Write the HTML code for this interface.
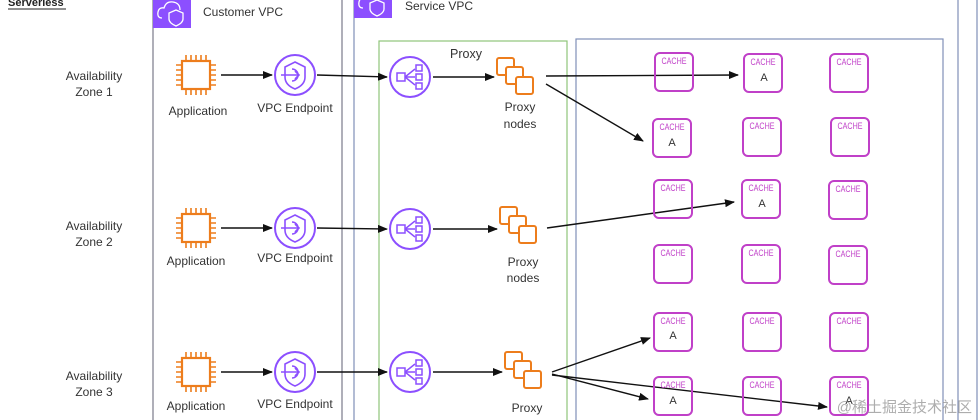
<!DOCTYPE html>
<html><head><meta charset="utf-8"><style>
html,body{margin:0;padding:0;background:#fff;}
svg{display:block;font-family:"Liberation Sans","Noto Sans CJK SC",sans-serif;}
</style></head><body>
<svg width="980" height="420" viewBox="0 0 980 420" xmlns="http://www.w3.org/2000/svg">
<defs>
<marker id="ar" markerWidth="10" markerHeight="8" refX="9" refY="4" orient="auto" markerUnits="userSpaceOnUse">
<path d="M0,0 L10,4 L0,8 z" fill="#111"/></marker>
<g id="chip">
<rect x="-14" y="-14" width="28" height="28" fill="none" stroke="#ed7d1c" stroke-width="2.2"/>
<g stroke="#ed7d1c" stroke-width="1.6">
<path d="M-10,-14v-6M-5,-14v-6M0,-14v-6M5,-14v-6M10,-14v-6M-10,14v6M-5,14v6M0,14v6M5,14v6M10,14v6M-14,-10h-6M-14,-5h-6M-14,0h-6M-14,5h-6M-14,10h-6M14,-10h6M14,-5h6M14,0h6M14,5h6M14,10h6"/></g>
</g>
<g id="vpce">
<circle r="20" fill="none" stroke="#8c4fff" stroke-width="2"/>
<path d="M0,-13 L10,-8 L10,2 Q10,10 0,14 Q-10,10 -10,2 L-10,-8 Z" fill="none" stroke="#8c4fff" stroke-width="1.6"/>
<path d="M-3,-6 A6,6 0 1 1 -3,6" fill="none" stroke="#8c4fff" stroke-width="1.6"/>
<path d="M-14,0 H4 M0,-4 L4,0 L0,4" fill="none" stroke="#8c4fff" stroke-width="1.6"/>
</g>
<g id="lb">
<circle r="20" fill="none" stroke="#8c4fff" stroke-width="2"/>
<rect x="-13" y="-4" width="8" height="8" fill="none" stroke="#8c4fff" stroke-width="1.5"/>
<rect x="6" y="-12" width="6" height="6" fill="none" stroke="#8c4fff" stroke-width="1.5"/>
<rect x="6" y="-3" width="6" height="6" fill="none" stroke="#8c4fff" stroke-width="1.5"/>
<rect x="6" y="6" width="6" height="6" fill="none" stroke="#8c4fff" stroke-width="1.5"/>
<path d="M-5,0 H5 M-5,0 L5,-8 M-5,0 L5,8" stroke="#8c4fff" stroke-width="1.5" fill="none"/>
</g>
<g id="nodes" fill="#fff" stroke="#ed7d1c" stroke-width="2">
<rect x="0" y="0" width="17" height="17" rx="2"/>
<rect x="9" y="9" width="17" height="17" rx="2"/>
<rect x="19" y="19" width="17" height="17" rx="2"/>
</g>
<g id="cloud">
<rect width="38" height="30" fill="#8c4fff"/>
<path d="M9,20 Q4,20 5,14 Q6,9 11,10 Q13,3 20,4 Q27,5 27,12" fill="none" stroke="#fff" stroke-width="1.3"/>
<path d="M23,12 L30,15 L30,21 Q30,25 23,28 Q16,25 16,21 L16,15 Z" fill="none" stroke="#fff" stroke-width="1.3"/>
</g>
</defs>

<text x="8" y="6" font-size="11" font-weight="bold" fill="#222">Serverless</text>
<line x1="8" y1="9" x2="66" y2="9" stroke="#222"/>

<rect x="153" y="-2" width="189" height="430" fill="none" stroke="#7a7a8a" stroke-width="1.2"/>
<use href="#cloud" x="153" y="-2"/>
<text x="203" y="16" font-size="12" fill="#333">Customer VPC</text>

<rect x="354" y="-2" width="604" height="430" fill="none" stroke="#8090b8" stroke-width="1.2"/>
<line x1="977" y1="0" x2="977" y2="420" stroke="#8090b8" stroke-width="1.2"/>
<use href="#cloud" x="354" y="-12"/>
<text x="405" y="10" font-size="12" fill="#333">Service VPC</text>

<rect x="379" y="41" width="188" height="390" fill="none" stroke="#8fc47a" stroke-width="1.2"/>
<text x="466" y="58" font-size="12.5" fill="#333" text-anchor="middle">Proxy</text>
<rect x="576" y="39" width="367" height="390" fill="none" stroke="#8090b8" stroke-width="1.2"/>

<g font-size="12" fill="#333" text-anchor="middle">
<text x="94" y="80">Availability</text><text x="94" y="96">Zone 1</text>
<text x="94" y="230">Availability</text><text x="94" y="246">Zone 2</text>
<text x="94" y="380">Availability</text><text x="94" y="396">Zone 3</text>
</g>

<g font-size="12" fill="#333" text-anchor="middle">
<use href="#chip" x="196" y="75"/><text x="198" y="115">Application</text>
<use href="#vpce" x="295" y="75"/><text x="295" y="112">VPC Endpoint</text>
<use href="#lb" x="410" y="77"/>
<use href="#nodes" x="497" y="58"/><text x="520" y="111">Proxy</text><text x="520" y="128">nodes</text>

<use href="#chip" x="196" y="228"/><text x="196" y="265">Application</text>
<use href="#vpce" x="295" y="228"/><text x="295" y="262">VPC Endpoint</text>
<use href="#lb" x="410" y="229"/>
<use href="#nodes" x="500" y="207"/><text x="523" y="266">Proxy</text><text x="523" y="282">nodes</text>

<use href="#chip" x="196" y="372"/><text x="196" y="410">Application</text>
<use href="#vpce" x="295" y="372"/><text x="295" y="408">VPC Endpoint</text>
<use href="#lb" x="410" y="372"/>
<use href="#nodes" x="505" y="352"/><text x="527" y="412">Proxy</text>
</g>

<g stroke="#111" stroke-width="1.4" fill="none" marker-end="url(#ar)">
<line x1="221" y1="75" x2="272" y2="75"/>
<line x1="317" y1="75" x2="387" y2="77"/>
<line x1="433" y1="77" x2="494" y2="77"/>
<line x1="221" y1="228" x2="272" y2="228"/>
<line x1="317" y1="228" x2="387" y2="229"/>
<line x1="433" y1="229" x2="497" y2="229"/>
<line x1="221" y1="372" x2="272" y2="372"/>
<line x1="317" y1="372" x2="387" y2="372"/>
<line x1="433" y1="372" x2="502" y2="372"/>
<line x1="546" y1="76" x2="738" y2="75"/>
<line x1="546" y1="84" x2="643" y2="141"/>
<line x1="547" y1="228" x2="734" y2="202"/>
<line x1="552" y1="372" x2="650" y2="338"/>
<line x1="552" y1="374" x2="648" y2="399"/>
<line x1="552" y1="375" x2="827" y2="407"/>
</g>

<g font-size="9" fill="#c040c8" text-anchor="middle">
<g fill="none" stroke="#c040c8" stroke-width="2">
<rect x="655" y="53" width="38" height="38" rx="5"/>
<rect x="744" y="54" width="38" height="38" rx="5"/>
<rect x="830" y="54" width="38" height="38" rx="5"/>
<rect x="653" y="119" width="38" height="38" rx="5"/>
<rect x="743" y="118" width="38" height="38" rx="5"/>
<rect x="831" y="118" width="38" height="38" rx="5"/>
<rect x="654" y="180" width="38" height="38" rx="5"/>
<rect x="742" y="180" width="38" height="38" rx="5"/>
<rect x="829" y="181" width="38" height="38" rx="5"/>
<rect x="654" y="245" width="38" height="38" rx="5"/>
<rect x="742" y="245" width="38" height="38" rx="5"/>
<rect x="829" y="246" width="38" height="38" rx="5"/>
<rect x="654" y="313" width="38" height="38" rx="5"/>
<rect x="743" y="313" width="38" height="38" rx="5"/>
<rect x="830" y="313" width="38" height="38" rx="5"/>
<rect x="654" y="377" width="38" height="38" rx="5"/>
<rect x="743" y="377" width="38" height="38" rx="5"/>
<rect x="830" y="377" width="38" height="38" rx="5"/>
</g>
<g lengthAdjust="spacingAndGlyphs">
<text x="674" y="64" textLength="25" lengthAdjust="spacingAndGlyphs">CACHE</text><text x="763" y="65" textLength="25" lengthAdjust="spacingAndGlyphs">CACHE</text><text x="849" y="65" textLength="25" lengthAdjust="spacingAndGlyphs">CACHE</text>
<text x="672" y="130" textLength="25" lengthAdjust="spacingAndGlyphs">CACHE</text><text x="762" y="129" textLength="25" lengthAdjust="spacingAndGlyphs">CACHE</text><text x="850" y="129" textLength="25" lengthAdjust="spacingAndGlyphs">CACHE</text>
<text x="673" y="191" textLength="25" lengthAdjust="spacingAndGlyphs">CACHE</text><text x="761" y="191" textLength="25" lengthAdjust="spacingAndGlyphs">CACHE</text><text x="848" y="192" textLength="25" lengthAdjust="spacingAndGlyphs">CACHE</text>
<text x="673" y="256" textLength="25" lengthAdjust="spacingAndGlyphs">CACHE</text><text x="761" y="256" textLength="25" lengthAdjust="spacingAndGlyphs">CACHE</text><text x="848" y="257" textLength="25" lengthAdjust="spacingAndGlyphs">CACHE</text>
<text x="673" y="324" textLength="25" lengthAdjust="spacingAndGlyphs">CACHE</text><text x="762" y="324" textLength="25" lengthAdjust="spacingAndGlyphs">CACHE</text><text x="849" y="324" textLength="25" lengthAdjust="spacingAndGlyphs">CACHE</text>
<text x="673" y="388" textLength="25" lengthAdjust="spacingAndGlyphs">CACHE</text><text x="762" y="388" textLength="25" lengthAdjust="spacingAndGlyphs">CACHE</text><text x="849" y="388" textLength="25" lengthAdjust="spacingAndGlyphs">CACHE</text>
</g>
</g>
<g font-size="11" fill="#333" text-anchor="middle">
<text x="764" y="81">A</text><text x="672" y="146">A</text><text x="762" y="207">A</text>
<text x="673" y="339">A</text><text x="673" y="404">A</text><text x="849" y="404">A</text>
</g>
<text x="972" y="412" font-size="15" fill="#999" text-anchor="end" opacity="0.8">@稀土掘金技术社区</text>
</svg>
</body></html>
